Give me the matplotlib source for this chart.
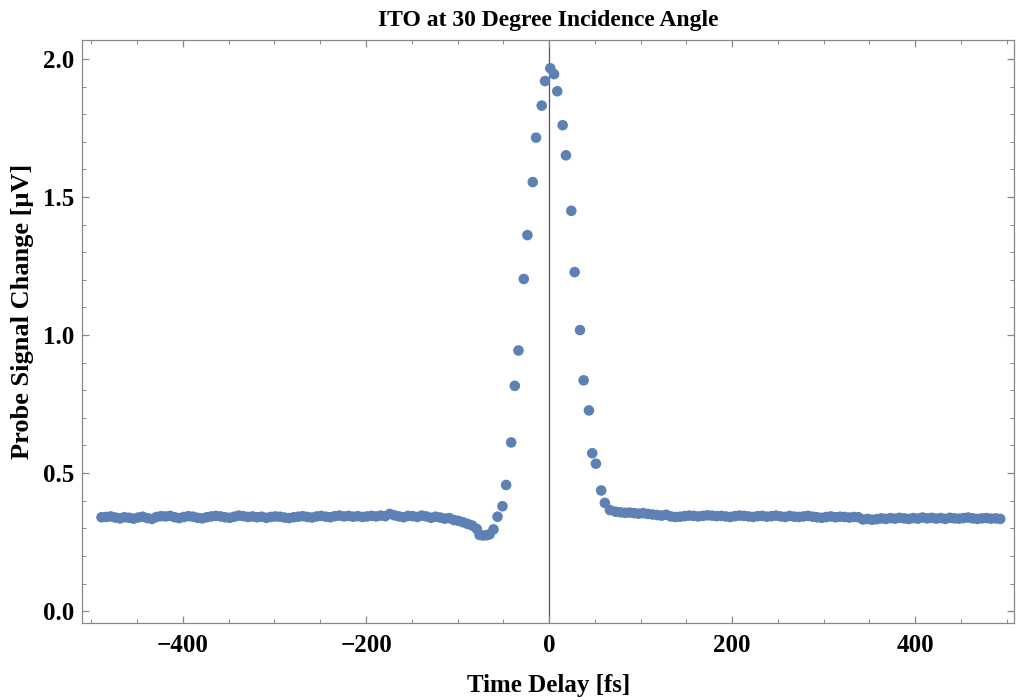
import matplotlib.pyplot as plt
from matplotlib.ticker import MultipleLocator

# baseline before the pulse
t_left = [-489, -484, -479, -474, -469, -464, -459, -454, -449, -444, -439, -434, -429, -424, -419, -414, -409, -404, -399,
          -394, -389, -384, -379, -374, -369, -364, -359, -354, -349, -344, -339, -334, -329, -324, -319, -314, -309, -304, -299,
          -294, -289, -284, -279, -274, -269, -264, -259, -254, -249, -244, -239, -234, -229, -224, -219, -214, -209, -204, -199,
          -194, -189, -184, -179, -174, -169, -164, -159, -154, -149, -144, -139, -134, -129, -124, -119, -114, -109, -104,
          -99, -94, -89, -84, -79]
v_left = [0.340, 0.341, 0.343, 0.339, 0.336, 0.340, 0.338, 0.335, 0.339, 0.342, 0.337, 0.334, 0.341, 0.344, 0.343, 0.345, 0.340, 0.337, 0.341,
          0.344, 0.342, 0.338, 0.336, 0.340, 0.343, 0.345, 0.343, 0.340, 0.338, 0.342, 0.346, 0.344, 0.341, 0.343, 0.340, 0.342, 0.338, 0.341, 0.343,
          0.342, 0.339, 0.337, 0.340, 0.342, 0.344, 0.341, 0.339, 0.343, 0.345, 0.342, 0.340, 0.344, 0.346, 0.343, 0.345, 0.342, 0.344, 0.341, 0.343,
          0.345, 0.343, 0.346, 0.344, 0.352, 0.347, 0.343, 0.340, 0.345, 0.344, 0.341, 0.346, 0.343, 0.338, 0.342, 0.339, 0.335, 0.337, 0.330,
          0.327, 0.322, 0.316, 0.310, 0.298]

# pulse region
t_peak = [-76, -72, -68, -65, -60.7, -56.3, -50.9, -46.9, -41.4, -37.4, -33.4, -27.6, -23.6, -17.8, -14.2, -8.0, -4.4,
          1.4, 5.5, 9.0, 14.9, 18.5, 24.3, 28.0, 33.8, 37.8, 43.6, 47.2, 51.2, 57.0, 61.0, 66.5, 72.7]
v_peak = [0.276, 0.274, 0.275, 0.278, 0.296, 0.342, 0.380, 0.457, 0.611, 0.816, 0.944, 1.203, 1.362, 1.554, 1.715, 1.831, 1.920,
          1.966, 1.945, 1.883, 1.760, 1.651, 1.450, 1.228, 1.018, 0.836, 0.727, 0.572, 0.534, 0.437, 0.392, 0.366, 0.360]

# baseline after the pulse
t_right = [78, 83, 88, 93, 98, 103, 108, 113, 118, 123, 128, 133, 138, 143, 148, 153, 158, 163, 168, 173,
           178, 183, 188, 193, 198, 203, 208, 213, 218, 223, 228, 233, 238, 243, 248, 253, 258, 263, 268, 273,
           278, 283, 288, 293, 298, 303, 308, 313, 318, 323, 328, 333, 338, 343, 348, 353, 358, 363, 368, 373,
           378, 383, 388, 393, 398, 403, 408, 413, 418, 423, 428, 433, 438, 443, 448, 453, 458, 463, 468, 473, 478, 483, 488, 493]
v_right = [0.358, 0.356, 0.357, 0.355, 0.353, 0.355, 0.352, 0.350, 0.348, 0.346, 0.349, 0.343, 0.341, 0.342, 0.344, 0.346, 0.345, 0.343, 0.345, 0.347,
           0.346, 0.344, 0.345, 0.343, 0.341, 0.344, 0.346, 0.345, 0.343, 0.341, 0.344, 0.345, 0.342, 0.344, 0.346, 0.343, 0.341, 0.345, 0.342, 0.341,
           0.343, 0.345, 0.342, 0.340, 0.338, 0.341, 0.343, 0.340, 0.342, 0.341, 0.339, 0.341, 0.340, 0.332, 0.334, 0.331, 0.333, 0.336, 0.334, 0.337,
           0.335, 0.338, 0.336, 0.334, 0.337, 0.335, 0.339, 0.336, 0.338, 0.335, 0.337, 0.334, 0.338, 0.336, 0.335, 0.337, 0.339, 0.336, 0.334, 0.336, 0.337, 0.335, 0.336, 0.334]

t = t_left + t_peak + t_right
v = v_left + v_peak + v_right

plt.rcParams['font.family'] = ['Liberation Serif', 'DejaVu Serif']
plt.rcParams['font.weight'] = 'bold'

fig = plt.figure(figsize=(10.16, 7.0), dpi=100)
ax = fig.add_axes([0.081, 0.11, 0.917, 0.833])

ax.axvline(0, color='#555555', lw=0.9, zorder=1)
ax.scatter(t, v, s=58, color='#5E81B5', edgecolors='none', zorder=3)

ax.set_xlim(-510, 508)
ax.set_ylim(-0.043, 2.069)
ax.xaxis.set_major_locator(MultipleLocator(200))
ax.xaxis.set_minor_locator(MultipleLocator(50))
ax.yaxis.set_major_locator(MultipleLocator(0.5))
ax.yaxis.set_minor_locator(MultipleLocator(0.1))
ax.xaxis.set_major_formatter(plt.FuncFormatter(lambda x, p: f"{int(x)}".replace('-', '\u2212')))
ax.yaxis.set_major_formatter(plt.FuncFormatter(lambda y, p: f"{y:.1f}"))

ax.tick_params(which='both', direction='in', top=True, right=True, colors='#888888',
               labelcolor='black', labelsize=18)
ax.tick_params(which='major', length=5, width=0.9)
ax.tick_params(which='minor', length=3, width=0.7)
ax.tick_params(axis='x', which='major', pad=8)
ax.tick_params(axis='y', which='major', pad=6)
for s in ax.spines.values():
    s.set_color('#888888')
    s.set_linewidth(0.9)

ax.set_title("ITO at 30 Degree Incidence Angle", fontsize=17, fontweight='bold', pad=10)
ax.set_xlabel("Time Delay [fs]", fontsize=18, fontweight='bold', labelpad=12)
ax.set_ylabel("Probe Signal Change [\u03bcV]", fontsize=19, fontweight='bold')
ax.yaxis.set_label_coords(-0.052, 0.535)

fig.savefig("out.png", dpi=100)
